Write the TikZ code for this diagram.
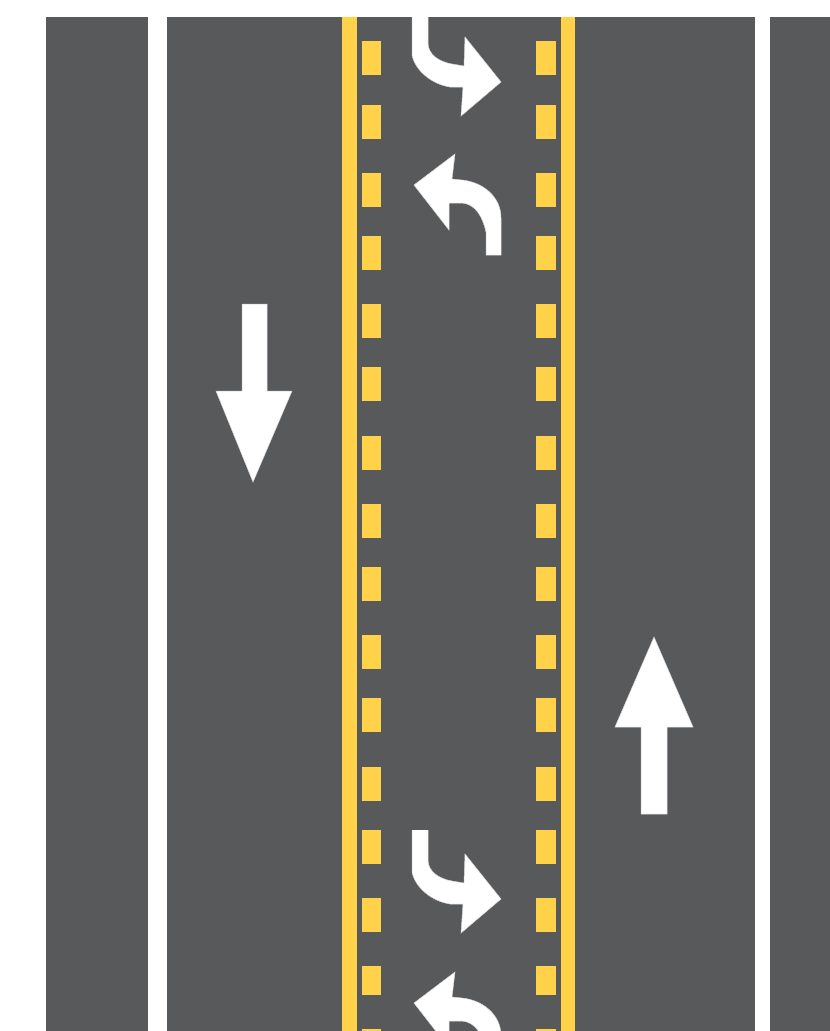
\documentclass[tikz,border=0pt]{standalone}
\usepackage{xcolor}
\definecolor{asphalt}{RGB}{88,89,91}
\definecolor{lineyellow}{RGB}{255,210,74}
\tikzset{
  laneturn/.style={fill=white, draw=white!75!asphalt, line width=0.5pt},
  pics/turnright/.style={code={
    \path[laneturn] (412,-20) -- (412,55) .. controls (415,70) and (431,84) .. (450,87)
      -- (463,87) -- (461,116) -- (501,82) -- (465,37) -- (464,66) -- (452,64)
      .. controls (440,62) and (428,55) .. (428,43) -- (428,-20) -- cycle;
  }},
  pics/turnleft/.style={code={
    \path[laneturn] (501,255) -- (486,255) -- (486,232) .. controls (483,218) and (476,204) .. (462,203)
      -- (449,203) -- (449,230) -- (414,185) -- (455,154) -- (452,179) -- (462,180)
      .. controls (482,182) and (501,196) .. (501,218) -- cycle;
  }}
}
\begin{document}
\begin{tikzpicture}[x=1pt, y=-1pt]
  \useasboundingbox (0,0) rectangle (830,1031);
  \clip (0,0) rectangle (830,1031);
  \fill[white] (0,0) rectangle (830,1031);
  % Road surface
  \fill[asphalt] (46,17) rectangle (148,1031);
  \fill[asphalt] (167,17) rectangle (755,1031);
  \fill[asphalt] (770,17) rectangle (830,1031);
  % Solid yellow lines
  \fill[lineyellow] (342,17) rectangle (357,1031);
  \fill[lineyellow] (561,17) rectangle (575,1031);
  % Dashes
  \foreach \ytop/\ybot in {41/75, 105/139, 173/207, 236/270, 304/338, 367/401, 436/470, 504/538,
      567/601, 635/669, 698/732, 767/801, 830/864, 898/932, 966/995, 1029/1040} {
    \fill[lineyellow] (362,\ytop) rectangle (381,\ybot);
    \fill[lineyellow] (536,\ytop) rectangle (556,\ybot);
  }
  % Through arrows
  \path[laneturn] (242,304) -- (267,304) -- (267,391) -- (292,391) -- (253,482) -- (216,391)
    -- (242,391) -- cycle;
  \path[laneturn] (641,814) -- (667,814) -- (667,727) -- (693,727) -- (654,637) -- (615,727)
    -- (641,727) -- cycle;
  % Turn arrows
  \begin{scope}
    \clip (400,17) rectangle (510,130);
    \pic at (0,0) {turnright};
  \end{scope}
  \pic at (0,0) {turnleft};
  \begin{scope}
    \clip (400,830) rectangle (510,1031);
    \pic at (0,817) {turnright};
  \end{scope}
  \pic at (0,818) {turnleft};
\end{tikzpicture}
\end{document}
